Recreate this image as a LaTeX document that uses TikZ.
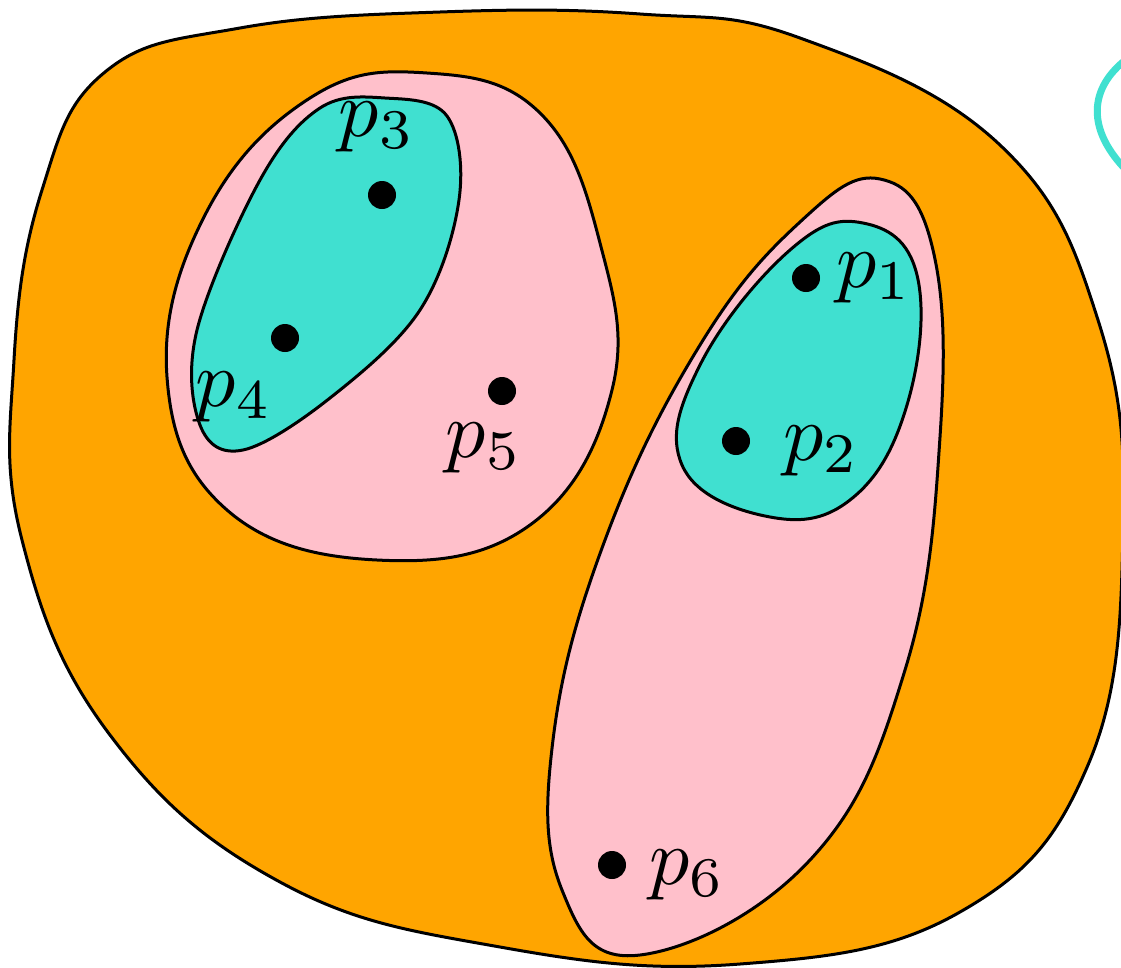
\documentclass[tikz,border=0pt]{standalone}
\definecolor{orng}{RGB}{255,165,0}
\definecolor{pnk}{RGB}{255,192,203}
\definecolor{turq}{RGB}{64,224,208}
\tikzset{
  region/.style={draw=black, line width=3pt, line join=round},
  dot/.style={circle, fill=black, inner sep=0pt, minimum size=28pt},
  lab/.style={inner sep=0pt, scale=8},
}
\begin{document}
\begin{tikzpicture}[x=1pt, y=-1pt]
\useasboundingbox (0,0) rectangle (1121,967);
\clip (0,0) rectangle (1121,967);
% outer orange region
\filldraw[region, fill=orng] plot[smooth cycle, tension=0.7] coordinates {
 (440,12) (640,14) (800,38) (1000,145) (1098,320) (1123,530) (1088,765)
 (960,912) (740,964) (500,947) (280,882) (110,735) (22,540) (14,360) (42,190) (105,72) (240,28)};
% partial turquoise outline at top right
\draw[turq, line width=7pt] (1128,58) .. controls (1088,88) and (1086,130) .. (1128,172);
% left pink region
\filldraw[region, fill=pnk] plot[smooth cycle, tension=0.7] coordinates {
 (427,73) (540,113) (600,243) (612,390) (530,525) (377,560) (227,510) (167,377)
 (205,215) (310,98)};
% left turquoise region
\filldraw[region, fill=turq] plot[smooth cycle, tension=0.6] coordinates {
 (385,98) (447,116) (459,200) (420,310) (330,398) (243,450) (200,425) (197,330)
 (260,180) (320,108)};
% right pink region
\filldraw[region, fill=pnk] plot[smooth cycle, tension=0.7] coordinates {
 (880,179) (933,250) (940,437) (905,670) (810,860) (640,955) (562,890) (553,740)
 (605,540) (700,345) (800,222)};
% right turquoise region
\filldraw[region, fill=turq] plot[smooth cycle, tension=0.7] coordinates {
 (863,223) (917,275) (907,405) (850,500) (765,516) (682,465) (700,365) (790,250)};
% points
\node[dot] (d1) at (806,278) {};
\node[dot] (d2) at (736,441) {};
\node[dot] (d3) at (382,195) {};
\node[dot] (d4) at (285,338) {};
\node[dot] (d5) at (502,391) {};
\node[dot] (d6) at (612,865) {};
% labels
\node[lab, anchor=west] (l1) at (835,278) {$p_1$};
\node[lab, anchor=west] (l2) at (782,451) {$p_2$};
\node[lab] (l3) at (377,127) {$p_3$};
\node[lab] (l4) at (234,397) {$p_4$};
\node[lab] (l5) at (484,448) {$p_5$};
\node[lab, anchor=west] (l6) at (648,875) {$p_6$};
\end{tikzpicture}
\end{document}
